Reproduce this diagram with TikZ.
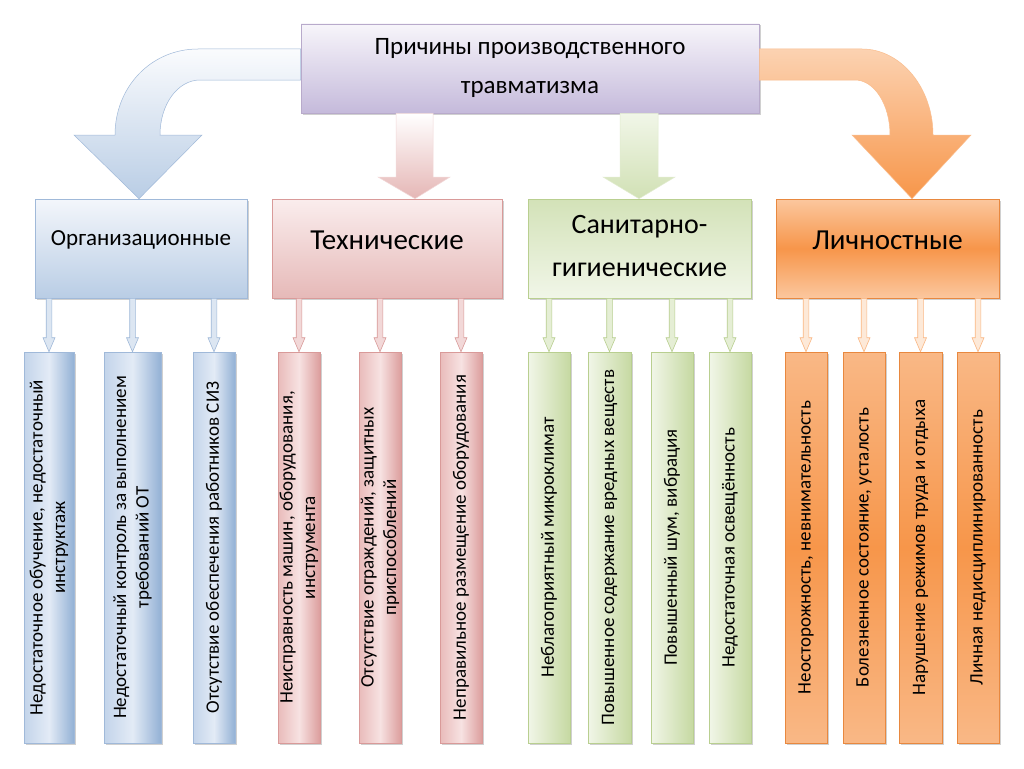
\documentclass[tikz,border=0pt]{standalone}
\usepackage{fontspec}
\setmainfont{Carlito}
\usetikzlibrary{shadows,calc}
\definecolor{topL}{HTML}{F7F5FA}
\definecolor{topD}{HTML}{C5BADB}
\definecolor{topB}{HTML}{B8AACB}
\definecolor{blueL}{HTML}{F3F6FB}
\definecolor{blueD}{HTML}{B9CDE5}
\definecolor{blueR}{HTML}{93B1D5}
\definecolor{blueB}{HTML}{A0B9D9}
\definecolor{blueLl}{HTML}{C3D4EA}
\definecolor{blueLm}{HTML}{E3EBF6}
\definecolor{redL}{HTML}{FAEDED}
\definecolor{redD}{HTML}{E6B9B8}
\definecolor{redR}{HTML}{DC9E9D}
\definecolor{redB}{HTML}{D99A99}
\definecolor{redLl}{HTML}{E9BBBA}
\definecolor{redLm}{HTML}{F7E2E2}
\definecolor{greenL}{HTML}{F1F6E8}
\definecolor{greenD}{HTML}{D3E2B8}
\definecolor{greenR}{HTML}{C6D9A2}
\definecolor{greenB}{HTML}{B9CF90}
\definecolor{orL}{HTML}{FBC79E}
\definecolor{orD}{HTML}{F7964A}
\definecolor{orB}{HTML}{E8883F}
\definecolor{orLeaf}{HTML}{F9B886}
\tikzset{
  box/.style={rectangle, inner sep=0pt, line width=0.6pt,
    drop shadow={shadow xshift=1.5pt, shadow yshift=-1.5pt, opacity=0.3, fill=black!60}},
  topbox/.style={box, draw=topB, top color=topL, bottom color=topD},
  midbox/.style={box, minimum height=99pt},
  orgbox/.style={midbox, draw=blueB, top color=blueL, bottom color=blueD},
  techbox/.style={midbox, draw=redB, top color=redL, bottom color=redD},
  sanbox/.style={midbox, draw=greenB, top color=greenD, bottom color=greenL},
  persbox/.style={midbox, draw=orB, top color=orL, bottom color=orL, middle color=orD},
  leaf/.style={box, minimum height=391pt},
  bleaf/.style={leaf, draw=blueB, left color=blueLl, right color=blueR, middle color=blueLm},
  rleaf/.style={leaf, draw=redB, left color=redLl, right color=redR, middle color=redLm},
  gleaf/.style={leaf, draw=greenB, left color=greenL, right color=greenR},
  oleaf/.style={leaf, draw=orB, top color=orLeaf, bottom color=orLeaf, middle color=orD},
  ltext/.style={rotate=90, align=center, inner sep=0pt, font=\fontsize{19pt}{22.5pt}\selectfont},
  barrow/.style={draw=blueB, fill=blueL!60!blueD, line width=0.6pt},
  rarrow/.style={draw=redB, fill=redL!60!redD, line width=0.6pt},
  garrow/.style={draw=greenB, fill=greenL!60!greenD, line width=0.6pt},
  oarrow/.style={draw=orL!70!orD, fill=orL!40!white, line width=0.6pt},
}
\newcommand\smallarr[3]{%
  \path[#3] let \p1=(#1.south), \p2=(#2.north) in
    (\x2-2.8pt,\y1) -- (\x2+2.8pt,\y1) -- (\x2+2.8pt,\y2+14pt) -- (\x2+6pt,\y2+14pt)
    -- (\x2,\y2) -- (\x2-6pt,\y2+14pt) -- (\x2-2.8pt,\y2+14pt) -- cycle;}
\begin{document}
\begin{tikzpicture}[x=1pt,y=-1pt]
\useasboundingbox[fill=white] (0,0) rectangle (1024,768);

% top box
\node[topbox, minimum width=458pt, minimum height=89pt] (top) at (530,68.5) {};
\node[align=center, font=\fontsize{25pt}{39pt}\selectfont] (topT) at (530,68) {Причины производственного\\травматизма};

% level 2 boxes
\node[orgbox, minimum width=212pt] (org) at (141,248.5) {};
\node[techbox, minimum width=230pt] (tech) at (387,248.5) {};
\node[sanbox, minimum width=223pt] (san) at (639.5,248.5) {};
\node[persbox, minimum width=223pt] (pers) at (887.5,248.5) {};
\node[font=\fontsize{23pt}{28pt}\selectfont] (orgT) at (141,240) {Организационные};
\node[font=\fontsize{29pt}{34pt}\selectfont] (techT) at (387,240) {Технические};
\node[align=center, font=\fontsize{28pt}{43pt}\selectfont] (sanT) at (639.5,246) {Санитарно-\\гигиенические};
\node[font=\fontsize{29pt}{34pt}\selectfont] (persT) at (887.5,240) {Личностные};

% big arrows
\path[draw=blueB, line width=0.5pt, top color=blueL!40!white, bottom color=blueD]
  let \p1=(top.west), \p2=(org.north) in
  (\x1,-49pt) -- (198,49) .. controls (151,49) and (115,87) .. (115,135)
  -- (74,135) -- (139,\y2) -- (202,135) -- (160,135)
  .. controls (160,104) and (178,80) .. (200,80) -- (\x1,-80pt) -- cycle;
\path[draw=orL!80!orD, line width=0.5pt, top color=orL!80!white, bottom color=orD]
  let \p1=(top.east), \p2=(pers.north) in
  (\x1,-49pt) -- (862,49) .. controls (901,49) and (933,88) .. (933,135)
  -- (971,135) -- (912,\y2) -- (852,135) -- (890,135)
  .. controls (890,104) and (874,80) .. (855,80) -- (\x1,-80pt) -- cycle;
\path[draw=redL!60!redD, line width=0.5pt, top color=white, bottom color=redD!90!redR]
  let \p1=(top.south), \p2=(tech.north) in
  (396pt,\y1) -- (433pt,\y1) -- (433,177) -- (450,177) -- (415pt,\y2) -- (378,177) -- (396,177) -- cycle;
\path[draw=greenL!50!greenD, line width=0.5pt, top color=greenL, bottom color=greenD!85!greenR]
  let \p1=(top.south), \p2=(san.north) in
  (620pt,\y1) -- (658pt,\y1) -- (658,177) -- (675,177) -- (639pt,\y2) -- (603,177) -- (620,177) -- cycle;

% leaves
\node[bleaf, minimum width=50pt] (b1) at (49,547.5) {};
\node[bleaf, minimum width=57pt] (b2) at (132.5,547.5) {};
\node[bleaf, minimum width=42pt] (b3) at (214,547.5) {};
\node[rleaf, minimum width=42pt] (r1) at (299,547.5) {};
\node[rleaf, minimum width=42pt] (r2) at (380,547.5) {};
\node[rleaf, minimum width=42pt] (r3) at (461,547.5) {};
\node[gleaf, minimum width=42pt] (g1) at (549,547.5) {};
\node[gleaf, minimum width=43pt] (g2) at (609.5,547.5) {};
\node[gleaf, minimum width=42pt] (g3) at (672,547.5) {};
\node[gleaf, minimum width=42pt] (g4) at (730,547.5) {};
\node[oleaf, minimum width=42pt] (o1) at (806,547.5) {};
\node[oleaf, minimum width=42pt] (o2) at (864,547.5) {};
\node[oleaf, minimum width=43pt] (o3) at (920.5,547.5) {};
\node[oleaf, minimum width=42pt] (o4) at (978,547.5) {};

\node[ltext] (b1t) at (b1) {Недостаточное обучение, недостаточный\\инструктаж};
\node[ltext] (b2t) at (b2) {Недостаточный контроль за выполнением\\требований ОТ};
\node[ltext] (b3t) at (b3) {Отсутствие обеспечения работников СИЗ};
\node[ltext] (r1t) at (r1) {Неисправность машин, оборудования,\\инструмента};
\node[ltext] (r2t) at (r2) {Отсутствие ограждений, защитных\\приспособлений};
\node[ltext] (r3t) at (r3) {Неправильное размещение оборудования};
\node[ltext] (g1t) at (g1) {Неблагоприятный микроклимат};
\node[ltext] (g2t) at (g2) {Повышенное содержание вредных веществ};
\node[ltext] (g3t) at (g3) {Повышенный шум, вибрация};
\node[ltext] (g4t) at (g4) {Недостаточная освещённость};
\node[ltext] (o1t) at (o1) {Неосторожность, невнимательность};
\node[ltext] (o2t) at (o2) {Болезненное состояние, усталость};
\node[ltext] (o3t) at (o3) {Нарушение режимов труда и отдыха};
\node[ltext] (o4t) at (o4) {Личная недисциплинированность};

% small arrows
\smallarr{org}{b1}{barrow}
\smallarr{org}{b2}{barrow}
\smallarr{org}{b3}{barrow}
\smallarr{tech}{r1}{rarrow}
\smallarr{tech}{r2}{rarrow}
\smallarr{tech}{r3}{rarrow}
\smallarr{san}{g1}{garrow}
\smallarr{san}{g2}{garrow}
\smallarr{san}{g3}{garrow}
\smallarr{san}{g4}{garrow}
\smallarr{pers}{o1}{oarrow}
\smallarr{pers}{o2}{oarrow}
\smallarr{pers}{o3}{oarrow}
\smallarr{pers}{o4}{oarrow}
\end{tikzpicture}
\end{document}
